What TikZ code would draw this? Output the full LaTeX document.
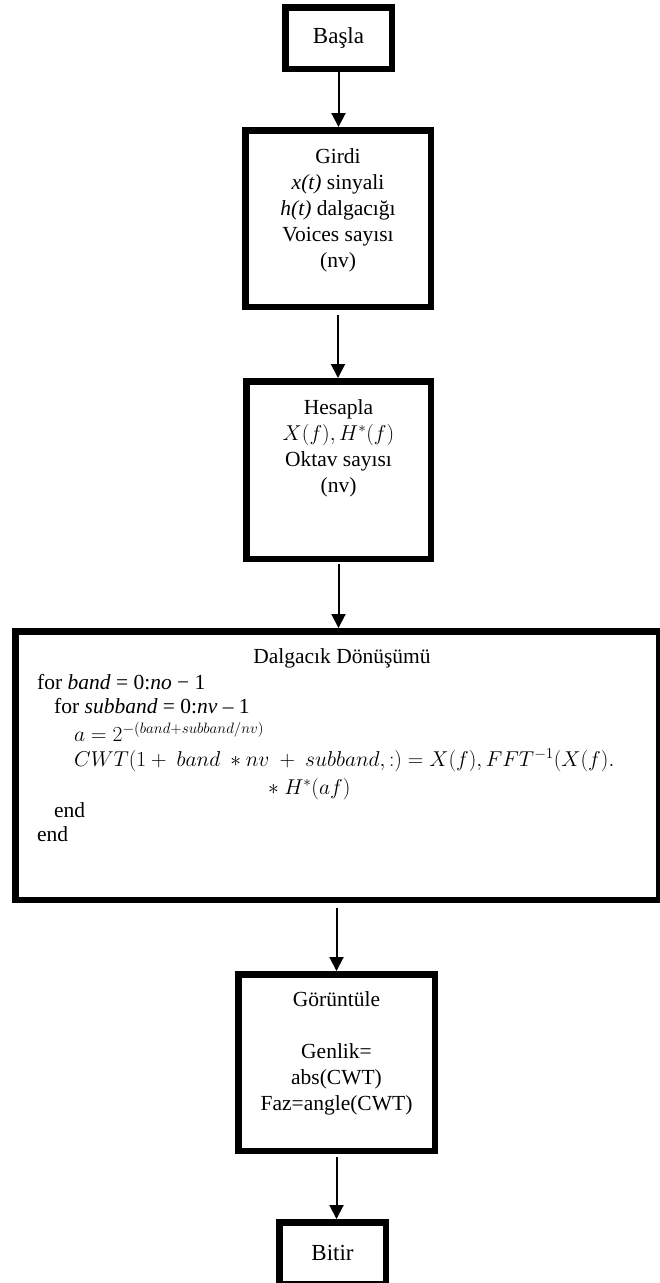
\documentclass[tikz,border=0pt]{standalone}
\usepackage{fix-cm}
\usepackage{fontspec}
\setmainfont{Liberation Serif}
\usetikzlibrary{arrows.meta}

\tikzset{
  box/.style={draw=black, line width=6.5pt, fill=white, inner sep=0pt, outer sep=3.25pt},
  txt/.style={inner sep=0pt, align=center, font=\fontsize{21.5}{26}\selectfont},
  codeline/.style={inner sep=0pt, anchor=base west, font=\fontsize{21.5}{26}\selectfont},
  flow/.style={line width=2pt, -{Triangle[width=14pt,length=14pt]}},
}

\begin{document}
\begin{tikzpicture}[x=1pt, y=-1pt]
\useasboundingbox (0,0) rectangle (659,1283);

% process boxes
\node[box, minimum width=106.5pt, minimum height=61.5pt, font=\fontsize{23}{26}\selectfont] (basla) at (338.5,38) {Başla};
\node[box, minimum width=185.5pt, minimum height=176.5pt] (girdi) at (338,218.5) {};
\node[box, minimum width=184.5pt, minimum height=177.5pt] (hesapla) at (338.5,470) {};
\node[box, minimum width=643.5pt, minimum height=268.5pt] (cwt) at (337,765.5) {};
\node[box, minimum width=196.5pt, minimum height=176.5pt] (goster) at (336.5,1062.5) {};
\node[box, minimum width=106.5pt, minimum height=61.5pt, font=\fontsize{23}{26}\selectfont] (bitir) at (332.5,1253) {Bitir};

% box contents
\node[txt, anchor=north] (girdiT) at (338,148)
  {Girdi\\\textit{x(t)} sinyali\\\textit{h(t)} dalgacığı\\Voices sayısı\\(nv)};
\node[txt, anchor=north] (hesaplaT) at (338.5,399)
  {Hesapla\\$X(f), H^{*}(f)$\\Oktav sayısı\\(nv)};
\node[txt, anchor=north] (gosterT) at (336.5,991)
  {Görüntüle\\[26pt]Genlik=\\abs(CWT)\\Faz=angle(CWT)};

\node[txt, anchor=base] (cwtT) at (342,663) {Dalgacık Dönüşümü};
\node[codeline] (c1) at (37,689) {for \textit{band} = 0:\textit{no} − 1};
\node[codeline] (c2) at (54,713) {for \textit{subband} = 0:\textit{nv} – 1};
\node[codeline] (c3) at (74,741) {$a = 2^{-(band+subband/nv)}$};
\node[codeline] (c4) at (74,766) {$CWT(1+\ band\ \ast nv\ +\ subband,:) = X(f), FFT^{-1}(X(f).$};
\node[codeline] (c5) at (268,794) {$\ast\ H^{*}(af)$};
\node[codeline] (c6) at (54,817) {end};
\node[codeline] (c7) at (37,841) {end};

% connectors
\draw[flow] (basla.south) -- (basla.south |- girdi.north);
\draw[flow] ([yshift=-5pt]girdi.south) -- (girdi.south |- hesapla.north);
\draw[flow] ([yshift=-2pt]hesapla.south) -- (hesapla.south |- cwt.north);
\draw[flow] ([yshift=-5pt]goster.north |- cwt.south) -- (goster.north);
\draw[flow] ([yshift=-3pt]goster.south) -- (goster.south |- bitir.north);
\end{tikzpicture}
\end{document}
